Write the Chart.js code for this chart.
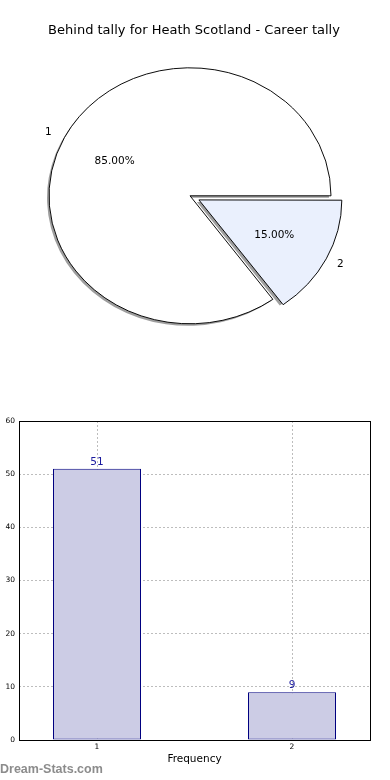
<!DOCTYPE html>
<html><head><meta charset="utf-8">
<script src="https://cdn.jsdelivr.net/npm/chart.js@4"></script>
<style>
html,body{margin:0;padding:0;background:#fff;width:390px;height:780px;overflow:hidden;position:relative}
#pie{position:absolute;left:0;top:0}
#bar{position:absolute;left:0;top:343px}
#wm{position:absolute;left:0;top:762px;font:bold 12.5px 'Liberation Sans',Arial,sans-serif;color:#8c8c8c;white-space:nowrap}
</style></head><body>
<canvas id="pie" width="390" height="343"></canvas>
<canvas id="bar" width="390" height="437"></canvas>
<div id="wm">Dream-Stats.com</div>
<script>
// ---- data ----
const chartTitle = 'Behind tally for Heath Scotland - Career tally';
const categories = ['1', '2'];
const counts = [51, 9];
const yTickValues = [0, 10, 20, 30, 40, 50, 60];
const xAxisTitle = 'Frequency';
const watermark = 'Dream-Stats.com';

// ---- styles ----
const FONT = "'DejaVu Sans', sans-serif";
const total = counts.reduce((a, b) => a + b, 0);
const pieColors = ['#ffffff', '#eaf0fd'];
const explode = [0, 40];           // Chart.js translates by offset/4
const SY = 128 / 141;              // ellipse ratio
const PIE_DX = -4;                 // pie sits slightly left of the title centre
const SHADOW = 'rgba(0,0,0,0.38)';

const piePlugin = {
  id: 'piePlugin',
  beforeDatasetsDraw(chart) {
    const ctx = chart.ctx;
    const meta = chart.getDatasetMeta(0);
    const a = meta.data[0];
    ctx.save();
    ctx.translate(a.x + PIE_DX, a.y);
    ctx.scale(1, SY);
    ctx.translate(-a.x, -a.y);
    // shadows
    ctx.save();
    ctx.fillStyle = SHADOW;
    meta.data.forEach(el => {
      const mid = (el.startAngle + el.endAngle) / 2;
      const off = (el.options.offset || 0) / 4;
      const cx = el.x + Math.cos(mid) * off - 2;
      const cy = el.y + Math.sin(mid) * off + 2 / SY;
      ctx.beginPath();
      ctx.moveTo(cx, cy);
      ctx.arc(cx, cy, el.outerRadius, el.startAngle, el.endAngle);
      ctx.closePath();
      ctx.fill();
    });
    ctx.restore();
  },
  afterDatasetsDraw(chart) {
    const ctx = chart.ctx;
    ctx.restore();
    const meta = chart.getDatasetMeta(0);
    ctx.save();
    ctx.fillStyle = '#000';
    ctx.font = '10.5px ' + FONT;
    ctx.textBaseline = 'middle';
    meta.data.forEach((el, i) => {
      const mid = (el.startAngle + el.endAngle) / 2;
      const off = (el.options.offset || 0) / 4;
      const r = el.outerRadius;
      const pos = k => ({x: el.x + PIE_DX + Math.cos(mid) * (off + k * r), y: el.y + Math.sin(mid) * (off + k * r) * SY});
      const p = pos(0.6);
      ctx.textAlign = 'center';
      ctx.fillText((counts[i] / total * 100).toFixed(2) + '%', p.x, p.y);
      const l = pos(1.1);
      ctx.textAlign = Math.cos(mid) < 0 ? 'right' : 'left';
      ctx.fillText(categories[i], l.x, l.y);
    });
    ctx.restore();
  }
};

new Chart(document.getElementById('pie'), {
  type: 'pie',
  data: {
    labels: categories,
    datasets: [{
      data: counts,
      backgroundColor: pieColors,
      borderColor: '#000',
      borderWidth: 1,
      offset: explode,
      hoverOffset: 0,
      clip: false
    }]
  },
  options: {
    responsive: false,
    animation: false,
    events: [],
    radius: 141,
    rotation: 90 + 360 * counts[1] / total,
    layout: {padding: {left: 8, right: 10, top: 0, bottom: 0}},
    plugins: {
      legend: {display: false},
      tooltip: {enabled: false},
      title: {
        display: true, text: chartTitle, color: '#000',
        font: {family: FONT, size: 13, weight: 'normal'},
        padding: {top: 23, bottom: 10}
      }
    }
  },
  plugins: [piePlugin]
});

const framePlugin = {
  id: 'frame',
  afterDraw(chart) {
    const ctx = chart.ctx, a = chart.chartArea;
    ctx.save();
    ctx.strokeStyle = '#000';
    ctx.lineWidth = 1;
    ctx.strokeRect(Math.round(a.left) + 0.5, Math.round(a.top) + 0.5,
                   Math.round(a.right - a.left), Math.round(a.bottom - a.top));
    // value labels
    const meta = chart.getDatasetMeta(0);
    ctx.fillStyle = '#1a1a9e';
    ctx.font = '10.5px ' + FONT;
    ctx.textAlign = 'center';
    ctx.textBaseline = 'alphabetic';
    meta.data.forEach((el, i) => {
      ctx.fillText(String(counts[i]), el.x, el.y - 4);
    });
    ctx.restore();
  }
};

new Chart(document.getElementById('bar'), {
  type: 'bar',
  data: {
    datasets: [{
      data: categories.map((c, i) => ({x: Number(c), y: counts[i]})),
      backgroundColor: '#ccccE5',
      borderColor: '#000080',
      borderWidth: 1,
      borderSkipped: false,
      barPercentage: 88 / 195,
      categoryPercentage: 1
    }]
  },
  options: {
    responsive: false,
    animation: false,
    events: [],
    layout: {padding: {left: 0, right: 20, top: 78, bottom: 0}},
    scales: {
      x: {
        type: 'linear', min: 0.6, max: 2.4, z: 1, offset: false,
        afterBuildTicks: s => { s.ticks = categories.map(c => ({value: Number(c)})); },
        afterFit: s => { s.height = 40; },
        ticks: {color: '#000', font: {family: FONT, size: 7.5}, padding: 3, callback: v => String(v)},
        grid: {color: '#bdbdbd', lineWidth: 1, drawTicks: false, offset: false},
        border: {display: false, dash: [2, 2]},
        title: {display: true, text: xAxisTitle, color: '#000', font: {family: FONT, size: 10.5}, padding: {top: 0, bottom: 14}}
      },
      y: {
        min: yTickValues[0], max: yTickValues[yTickValues.length - 1], z: 1,
        afterBuildTicks: s => { s.ticks = yTickValues.map(v => ({value: v})); },
        afterFit: s => { s.width = 19; },
        ticks: {color: '#000', font: {family: FONT, size: 7.5}, padding: 4},
        grid: {color: '#bdbdbd', lineWidth: 1, drawTicks: false},
        border: {display: false, dash: [2, 2]}
      }
    },
    plugins: {legend: {display: false}, tooltip: {enabled: false}}
  },
  plugins: [framePlugin]
});
</script>
</body></html>
